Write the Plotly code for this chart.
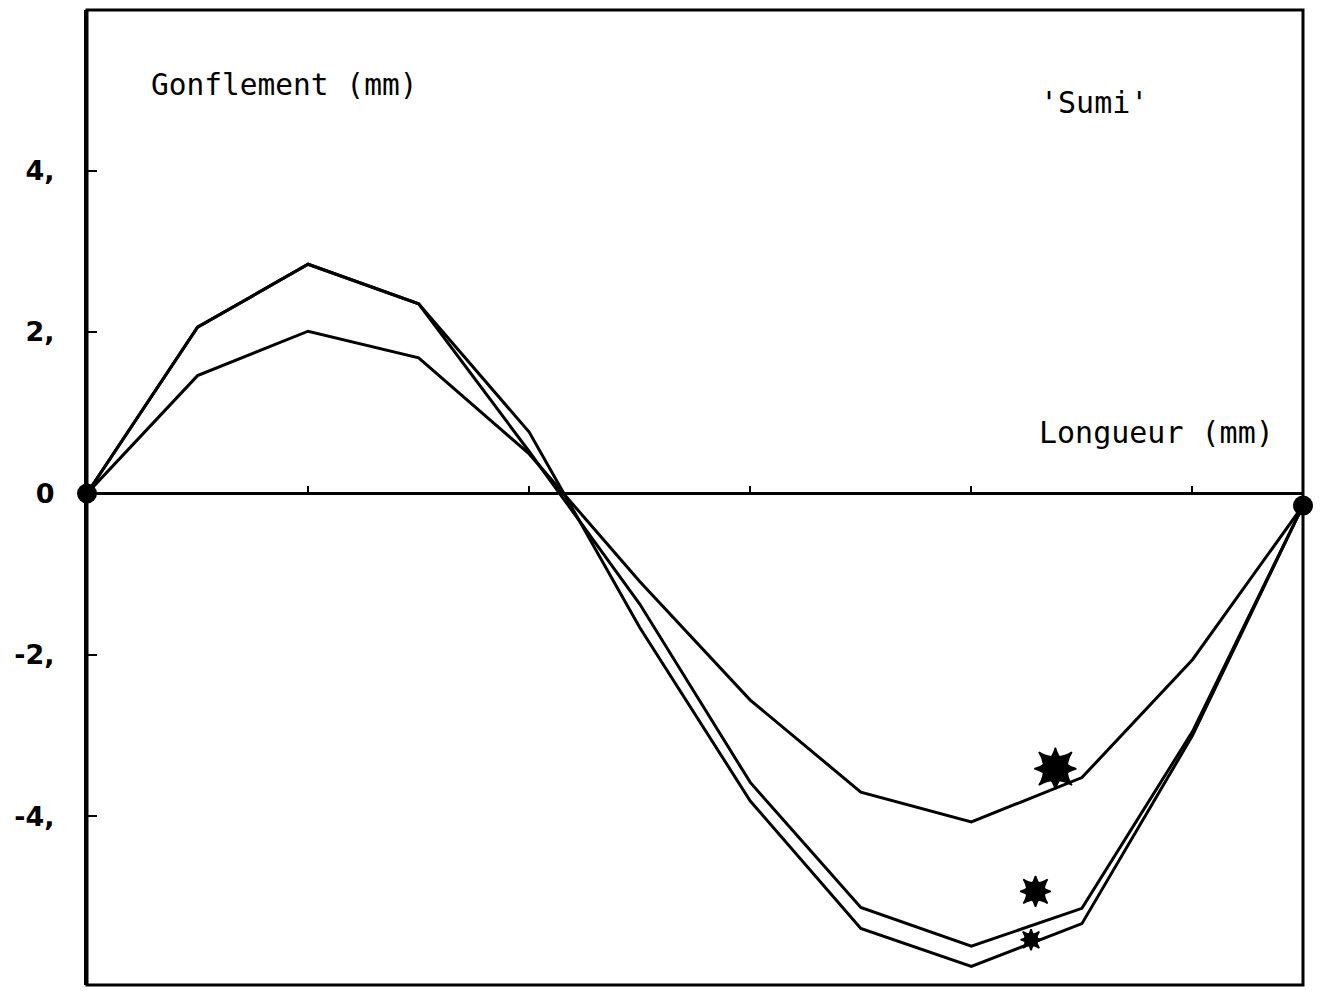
import plotly.graph_objects as go

# Positions along the specimen (mm) and swelling of the three profiles (mm)
longueur = [0, 0.5, 1.0, 1.5, 2.0, 2.5, 3.0, 3.5, 4.0, 4.5, 5.0, 5.5]
profil_a = [0, 2.06, 2.84, 2.35, 0.76, -1.66, -3.81, -5.39, -5.86, -5.33, -3.00, -0.15]
profil_b = [0, 2.06, 2.84, 2.35, 0.52, -1.37, -3.58, -5.13, -5.61, -5.14, -2.95, -0.15]
profil_c = [0, 1.46, 2.01, 1.68, 0.49, -1.09, -2.56, -3.70, -4.07, -3.52, -2.06, -0.15]

# Star symbols identifying each profile
etoile_x = [4.38, 4.29, 4.27]
etoile_y = [-3.41, -4.93, -5.53]
etoile_taille = [30, 22, 15]

# Clamped ends of the specimen
appui_x = [0, 5.5]
appui_y = [0, -0.15]

y_ticks = [-4, -2, 0, 2, 4]
y_labels = ["-4,", "-2,", "0", "2,", "4,"]
x_ticks = [1, 2, 3, 4, 5]

x_range = [0, 5.5]
y_range = [-6.09, 5.99]

fig = go.Figure()

for prof in (profil_a, profil_b, profil_c):
    fig.add_trace(go.Scatter(
        x=longueur, y=prof, mode="lines",
        line=dict(color="black", width=3),
        showlegend=False, hoverinfo="skip",
    ))

# eight-pointed stars: two four-pointed stars superimposed
for sym in ("star-square", "star-diamond"):
    fig.add_trace(go.Scatter(
        x=etoile_x, y=etoile_y, mode="markers",
        marker=dict(symbol=sym, size=etoile_taille, color="black",
                    opacity=1, line=dict(width=1.5, color="black")),
        showlegend=False, hoverinfo="skip",
    ))

fig.add_trace(go.Scatter(
    x=appui_x, y=appui_y, mode="markers",
    marker=dict(symbol="circle", size=20, color="black"),
    cliponaxis=False, showlegend=False, hoverinfo="skip",
))

zero_pos = (0 - y_range[0]) / (y_range[1] - y_range[0])

fig.update_layout(
    width=1327, height=991,
    margin=dict(l=87, r=24, t=10, b=6),
    paper_bgcolor="white", plot_bgcolor="white",
    font=dict(family="DejaVu Sans Mono", color="black"),
    xaxis=dict(
        range=x_range, anchor="free", position=zero_pos, side="top",
        showgrid=False, zeroline=False,
        showline=True, linecolor="black", linewidth=3,
        tickvals=x_ticks, ticks="outside", ticklen=6, tickwidth=2,
        tickcolor="black", showticklabels=False,
    ),
    yaxis=dict(
        range=y_range, showgrid=False, zeroline=False,
        showline=True, linecolor="black", linewidth=3,
        tickvals=y_ticks, ticktext=y_labels,
        ticks="inside", ticklen=10, tickwidth=2, tickcolor="black",
        ticklabelstandoff=24,
        tickfont=dict(family="DejaVu Sans", size=27, color="black", weight="bold"),
    ),
    shapes=[dict(
        type="rect", xref="x domain", yref="y domain",
        x0=0, x1=1, y0=0, y1=1,
        line=dict(color="black", width=3),
    )],
    annotations=[
        dict(text="Gonflement (mm)", xref="x domain", yref="y domain",
             x=0.051, y=0.923, xanchor="left", yanchor="middle",
             showarrow=False, font=dict(size=29.5)),
        dict(text="'Sumi'", xref="x domain", yref="y domain",
             x=0.782, y=0.905, xanchor="left", yanchor="middle",
             showarrow=False, font=dict(size=30)),
        dict(text="Longueur (mm)", xref="x domain", yref="y domain",
             x=0.781, y=0.567, xanchor="left", yanchor="middle",
             showarrow=False, font=dict(size=30)),
    ],
)

fig.write_html("out.html")
